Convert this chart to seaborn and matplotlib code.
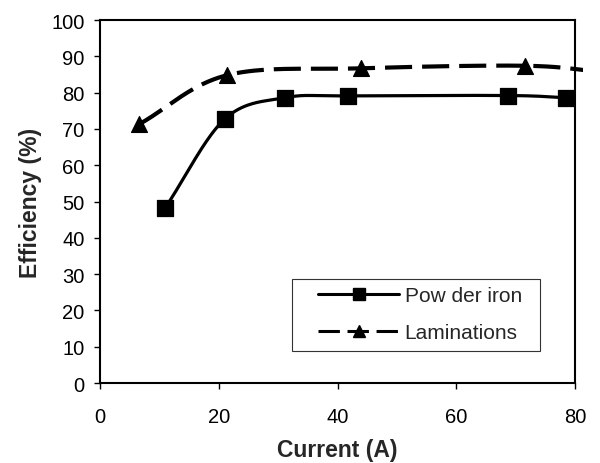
import numpy as np
import pandas as pd
import matplotlib
matplotlib.use("Agg")
import matplotlib.pyplot as plt
import seaborn as sns
from matplotlib.lines import Line2D
from matplotlib.patches import Rectangle

# Data
powder_x = [11.0, 21.0, 31.2, 41.7, 68.7, 78.4]
powder_y = [48.3, 72.7, 78.6, 79.1, 79.2, 78.6]
lam_x = [6.6, 21.4, 44.0, 71.6, 85.0]
lam_y = [71.3, 84.8, 86.7, 87.4, 85.6]
lam_marker_x = [6.6, 21.4, 44.0, 71.6]
lam_marker_y = [71.3, 84.8, 86.7, 87.4]

x_ticks = [0, 20, 40, 60, 80]
y_ticks = list(range(0, 101, 10))


def smooth(xs, ys, n=40):
    xs = np.asarray(xs, float)
    ys = np.asarray(ys, float)
    P = np.column_stack([xs, ys])
    P = np.vstack([P[0] - (P[1] - P[0]), P, P[-1] + (P[-1] - P[-2])])
    out = []
    for i in range(1, len(P) - 2):
        p0, p1, p2, p3 = P[i - 1], P[i], P[i + 1], P[i + 2]
        t = np.linspace(0, 1, n)[:, None]
        c = 0.5 * ((2 * p1) + (-p0 + p2) * t + (2 * p0 - 5 * p1 + 4 * p2 - p3) * t ** 2
                   + (-p0 + 3 * p1 - 3 * p2 + p3) * t ** 3)
        out.append(c if i == len(P) - 3 else c[:-1])
    c = np.vstack(out)
    return c[:, 0], c[:, 1]


sns.set_theme(style="white")
plt.rcParams["font.family"] = ["Liberation Sans", "DejaVu Sans"]

fig = plt.figure(figsize=(6, 4.64), dpi=100)
ax = fig.add_axes([0.1667, 0.1724, 0.7917, 0.7823])

px, py = smooth(powder_x, powder_y)
lx, ly = smooth(lam_x, lam_y)
df_p = pd.DataFrame({"x": px, "y": py})
df_l = pd.DataFrame({"x": lx, "y": ly})

sns.lineplot(data=df_p, x="x", y="y", estimator=None, sort=False,
             color="black", lw=2.3, ax=ax)
sns.lineplot(data=df_l, x="x", y="y", estimator=None, sort=False,
             color="black", lw=3.0, ax=ax)
line_l = ax.lines[-1]
line_l.set_linestyle((0, (6.5, 2.4)))
clip = Rectangle((0, 0), 81.3, 100, transform=ax.transData)
line_l.set_clip_path(clip)

sns.scatterplot(x=powder_x, y=powder_y, marker="s", s=130, color="black",
                edgecolor="black", ax=ax, zorder=5, clip_on=False)
sns.scatterplot(x=lam_marker_x, y=lam_marker_y, marker="^", s=130, color="black",
                edgecolor="black", ax=ax, zorder=5)

ax.set_xlim(0, 80)
ax.set_ylim(0, 100)
ax.set_xticks(x_ticks)
ax.set_yticks(y_ticks)
ax.set_xlabel("Current (A)", fontsize=16.5, fontweight="bold", labelpad=9)
ax.set_ylabel("Efficiency (%)", fontsize=16.5, fontweight="bold", labelpad=7)
ax.tick_params(axis="both", labelsize=14.5, direction="out", length=4, width=1,
               color="black", labelcolor="black", bottom=True, left=True)
ax.tick_params(axis="x", pad=13)
ax.tick_params(axis="y", pad=7)
for s in ax.spines.values():
    s.set_color("black")
    s.set_linewidth(1.5)

# legend box
ax.add_patch(Rectangle((0.404, 0.089), 0.522, 0.197, transform=ax.transAxes,
                       facecolor="white", edgecolor="#333333", lw=0.8, zorder=6))
handles = [
    Line2D([], [], color="black", lw=2.2, marker="s", markersize=8),
    Line2D([], [], color="black", lw=2.2, linestyle=(0, (7, 2.5)), marker="^", markersize=8),
]
leg = ax.legend(handles, ["Pow der iron", "Laminations"], loc="center left",
                bbox_to_anchor=(0.459, 0.190), frameon=False, borderpad=0,
                borderaxespad=0, fontsize=15, labelspacing=0.85,
                handlelength=3.9, handletextpad=0.25)
leg.set_zorder(7)

fig.savefig("out.png", dpi=100)
